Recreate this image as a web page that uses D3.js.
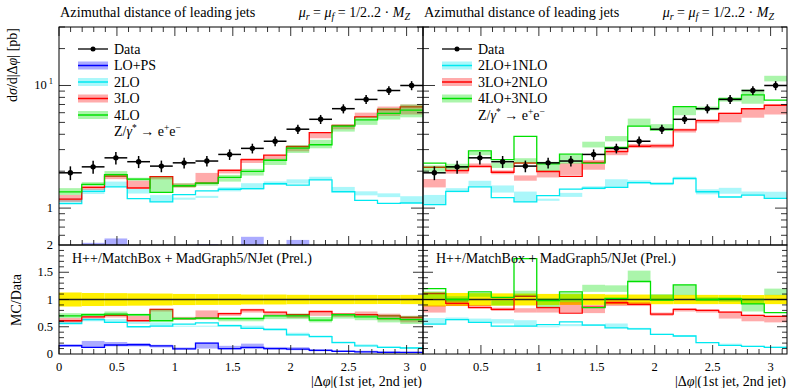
<!DOCTYPE html>
<html>
<head>
<meta charset="utf-8">
<script src="https://cdn.jsdelivr.net/npm/d3@7/dist/d3.min.js"></script>
<style>
  body { margin: 0; background: #fff; }
  svg text { font-family: "Liberation Serif", "Times New Roman", serif; fill: #000; }
</style>
</head>
<body>
<svg id="chart" width="788" height="388" font-family="Liberation Serif, serif"></svg>
<script>
// bin edges of |dphi| (16 bins from 0 to pi)
const binEdges = [0, 0.19635, 0.3927, 0.58905, 0.7854, 0.98175, 1.1781, 1.37445, 1.5708,
  1.76715, 1.9635, 2.15985, 2.3562, 2.55255, 2.7489, 2.94525, 3.14159];

// measured cross section [pb] and its error
const dataVals = [1.94, 2.17, 2.57, 2.39, 2.20, 2.34, 2.42, 2.74, 3.07, 3.51, 4.40, 5.30, 6.47, 7.70, 9.10, 10.0];
const dataErr = [0.25, 0.26, 0.30, 0.27, 0.24, 0.24, 0.24, 0.27, 0.28, 0.32, 0.38, 0.45, 0.55, 0.65, 0.75, 0.85];

// MC / Data, central value and scale variation band (left panel)
const lopsC  = [0.155, 0.12, 0.165, 0.17, 0.15, 0.095, 0.20, 0.10, 0.12, 0.10, 0.09, 0.065, 0.05, 0.04, 0.03, 0.03];
const lopsLo = [0.13, 0.11, 0.14, 0.14, 0.12, 0.08, 0.10, 0.08, 0.09, 0.08, 0.07, 0.05, 0.04, 0.03, 0.02, 0.02];
const lopsHi = [0.18, 0.24, 0.22, 0.20, 0.17, 0.12, 0.21, 0.15, 0.19, 0.13, 0.125, 0.09, 0.07, 0.06, 0.05, 0.04];

const lo2C  = [0.56, 0.63, 0.58, 0.50, 0.51, 0.55, 0.57, 0.52, 0.47, 0.45, 0.35, 0.32, 0.21, 0.15, 0.12, 0.11];
const lo2Lo = [0.56, 0.60, 0.58, 0.55, 0.51, 0.50, 0.50, 0.50, 0.46, 0.44, 0.36, 0.32, 0.21, 0.165, 0.135, 0.11];
const lo2Hi = [0.62, 0.66, 0.64, 0.60, 0.58, 0.52, 0.52, 0.54, 0.52, 0.47, 0.39, 0.34, 0.23, 0.178, 0.145, 0.125];

const lo3C  = [0.61, 0.68, 0.71, 0.61, 0.82, 0.65, 0.66, 0.74, 0.81, 0.77, 0.72, 0.78, 0.73, 0.72, 0.70, 0.67];
const lo3Lo = [0.58, 0.65, 0.67, 0.61, 0.78, 0.63, 0.66, 0.70, 0.76, 0.70, 0.66, 0.70, 0.68, 0.71, 0.62, 0.58];
const lo3Hi = [0.66, 0.70, 0.74, 0.70, 0.83, 0.68, 0.80, 0.76, 0.83, 0.77, 0.74, 0.78, 0.74, 0.78, 0.74, 0.70];

const lo4C  = [0.70, 0.72, 0.73, 0.72, 0.61, 0.65, 0.66, 0.65, 0.65, 0.70, 0.70, 0.62, 0.72, 0.68, 0.65, 0.63];
const lo4Lo = [0.66, 0.70, 0.70, 0.70, 0.61, 0.63, 0.63, 0.60, 0.60, 0.64, 0.64, 0.58, 0.65, 0.62, 0.58, 0.55];
const lo4Hi = [0.75, 0.75, 0.78, 0.74, 0.82, 0.68, 0.67, 0.68, 0.68, 0.72, 0.74, 0.68, 0.74, 0.72, 0.72, 0.70];

// MC / Data (right panel, merged NLO)
const nlo1C  = [0.55, 0.63, 0.58, 0.51, 0.51, 0.54, 0.59, 0.53, 0.48, 0.46, 0.36, 0.33, 0.21, 0.16, 0.14, 0.12];
const nlo1Lo = [0.55, 0.62, 0.59, 0.56, 0.51, 0.49, 0.51, 0.52, 0.48, 0.45, 0.35, 0.32, 0.20, 0.17, 0.14, 0.12];
const nlo1Hi = [0.66, 0.67, 0.65, 0.64, 0.62, 0.51, 0.55, 0.55, 0.56, 0.48, 0.37, 0.34, 0.22, 0.19, 0.15, 0.136];

const nlo2C  = [1.11, 0.93, 0.85, 0.82, 1.06, 0.85, 0.75, 0.86, 0.94, 0.91, 0.73, 0.82, 0.80, 0.77, 0.71, 0.69];
const nlo2Lo = [0.76, 0.88, 0.84, 0.79, 0.76, 0.76, 0.77, 0.75, 0.88, 0.88, 0.70, 0.78, 0.76, 0.65, 0.60, 0.58];
const nlo2Hi = [0.89, 0.97, 0.90, 0.85, 0.84, 0.87, 0.96, 0.90, 0.98, 0.95, 0.76, 0.84, 0.82, 0.78, 0.72, 0.70];

const nlo3C  = [1.20, 1.00, 1.14, 1.04, 1.75, 0.98, 1.14, 0.85, 1.02, 1.33, 0.99, 1.27, 1.00, 1.01, 0.92, 0.76];
const nlo3Lo = [1.02, 0.95, 1.05, 0.89, 1.05, 0.86, 0.95, 1.14, 1.14, 1.32, 1.00, 1.08, 0.97, 0.96, 0.78, 1.08];
const nlo3Hi = [1.15, 1.06, 1.12, 0.98, 1.16, 1.02, 1.12, 1.27, 1.26, 1.53, 1.10, 1.27, 1.04, 1.04, 1.02, 1.20];

const xTickLabels = ['0', '0.5', '1', '1.5', '2', '2.5', '3'];
const ratioTickLabels = ['0', '0.5', '1', '1.5', '2'];

const leftSeries = [
  { name: 'LO+PS', color: '#0000ff', c: lopsC, lo: lopsLo, hi: lopsHi },
  { name: '2LO', color: '#00e8f0', c: lo2C, lo: lo2Lo, hi: lo2Hi },
  { name: '3LO', color: '#ff0000', c: lo3C, lo: lo3Lo, hi: lo3Hi },
  { name: '4LO', color: '#00e000', c: lo4C, lo: lo4Lo, hi: lo4Hi }
];
const rightSeries = [
  { name: '2LO+1NLO', color: '#00e8f0', c: nlo1C, lo: nlo1Lo, hi: nlo1Hi },
  { name: '3LO+2NLO', color: '#ff0000', c: nlo2C, lo: nlo2Lo, hi: nlo2Hi },
  { name: '4LO+3NLO', color: '#00e000', c: nlo3C, lo: nlo3Lo, hi: nlo3Hi }
];

const svg = d3.select('#chart');
const panelW = 364;
const topY0 = 27, topY1 = 245, ratY1 = 354;
const bandOpacity = 0.33;
const fs = '14px', tickFs = '12.5px';

// histogram step path from per-bin values
function steps(vals, x, y) {
  const pts = [];
  vals.forEach((v, i) => {
    pts.push([x(binEdges[i]), y(v)]);
    pts.push([x(binEdges[i + 1]), y(v)]);
  });
  return d3.line()(pts);
}

function drawPanel(left, series, idx, showY) {
  const x = d3.scaleLinear().domain([0, Math.PI]).range([left, left + panelW]);
  const yTop = d3.scaleLog().domain([0.5, 30]).range([topY1, topY0]);
  const yRat = d3.scaleLinear().domain([0, 2]).range([ratY1, topY1]);

  // clip areas for both sub plots
  const defs = svg.append('defs');
  defs.append('clipPath').attr('id', 'ct' + idx).append('rect')
    .attr('x', left).attr('y', topY0).attr('width', panelW).attr('height', topY1 - topY0);
  defs.append('clipPath').attr('id', 'cr' + idx).append('rect')
    .attr('x', left).attr('y', topY1).attr('width', panelW).attr('height', ratY1 - topY1);

  const gTop = svg.append('g').attr('clip-path', `url(#ct${idx})`);
  const gRat = svg.append('g').attr('clip-path', `url(#cr${idx})`);

  // yellow data uncertainty band + line at 1 in the ratio
  gRat.selectAll('rect.dband').data(dataVals).enter().append('rect')
    .attr('x', (d, i) => x(binEdges[i]))
    .attr('width', (d, i) => x(binEdges[i + 1]) - x(binEdges[i]))
    .attr('y', (d, i) => yRat(1 + dataErr[i] / d))
    .attr('height', (d, i) => yRat(1 - dataErr[i] / d) - yRat(1 + dataErr[i] / d))
    .attr('fill', '#fff000');
  gRat.append('line')
    .attr('x1', x(0)).attr('x2', x(Math.PI))
    .attr('y1', yRat(1)).attr('y2', yRat(1))
    .attr('stroke', '#222').attr('stroke-width', 1.4);

  // MC bands then lines
  series.forEach(s => {
    const absC = s.c.map((r, i) => r * dataVals[i]);
    gTop.selectAll(null).data(s.lo).enter().append('rect')
      .attr('x', (d, i) => x(binEdges[i]))
      .attr('width', (d, i) => x(binEdges[i + 1]) - x(binEdges[i]))
      .attr('y', (d, i) => yTop(s.hi[i] * dataVals[i]))
      .attr('height', (d, i) => yTop(d * dataVals[i]) - yTop(s.hi[i] * dataVals[i]))
      .attr('fill', s.color).attr('fill-opacity', bandOpacity);
    gRat.selectAll(null).data(s.lo).enter().append('rect')
      .attr('x', (d, i) => x(binEdges[i]))
      .attr('width', (d, i) => x(binEdges[i + 1]) - x(binEdges[i]))
      .attr('y', (d, i) => yRat(s.hi[i]))
      .attr('height', (d, i) => yRat(d) - yRat(s.hi[i]))
      .attr('fill', s.color).attr('fill-opacity', bandOpacity);
    gTop.append('path').attr('d', steps(absC, x, yTop))
      .attr('fill', 'none').attr('stroke', s.color).attr('stroke-width', 1.3);
    gRat.append('path').attr('d', steps(s.c, x, yRat))
      .attr('fill', 'none').attr('stroke', s.color).attr('stroke-width', 1.3);
  });

  // data points with error bars
  const mid = i => (binEdges[i] + binEdges[i + 1]) / 2;
  const pts = gTop.append('g');
  dataVals.forEach((v, i) => {
    pts.append('line').attr('x1', x(binEdges[i])).attr('x2', x(binEdges[i + 1]))
      .attr('y1', yTop(v)).attr('y2', yTop(v)).attr('stroke', '#000').attr('stroke-width', 1.5);
    pts.append('line').attr('x1', x(mid(i))).attr('x2', x(mid(i)))
      .attr('y1', yTop(v - dataErr[i])).attr('y2', yTop(v + dataErr[i]))
      .attr('stroke', '#000').attr('stroke-width', 1.5);
    pts.append('circle').attr('cx', x(mid(i))).attr('cy', yTop(v)).attr('r', 2.7).attr('fill', '#000');
  });

  // frames
  [[topY0, topY1], [topY1, ratY1]].forEach(([a, b]) => {
    svg.append('rect').attr('x', left).attr('y', a).attr('width', panelW).attr('height', b - a)
      .attr('fill', 'none').attr('stroke', '#000').attr('stroke-width', 1);
  });

  // x ticks, pointing inward
  const xMinor = d3.range(0, 32).map(k => k / 10);
  const ticks = svg.append('g').attr('stroke', '#000').attr('stroke-width', 0.8);
  xMinor.forEach(t => {
    const major = Math.abs(t * 2 - Math.round(t * 2)) < 1e-6;
    const len = major ? 9 : 5;
    [[topY1, -1], [topY0, 1], [ratY1, -1]].forEach(([yy, dir]) => {
      ticks.append('line').attr('x1', x(t)).attr('x2', x(t))
        .attr('y1', yy).attr('y2', yy + dir * len);
    });
  });

  // y ticks on the log plot and the ratio plot
  const logMinor = [0.6, 0.7, 0.8, 0.9, 2, 3, 4, 5, 6, 7, 8, 9, 20, 30];
  const logMajor = [1, 10];
  const yTick = (yy, len) => {
    ticks.append('line').attr('x1', left).attr('x2', left + len).attr('y1', yy).attr('y2', yy);
    ticks.append('line').attr('x1', left + panelW).attr('x2', left + panelW - len).attr('y1', yy).attr('y2', yy);
  };
  logMinor.forEach(t => yTick(yTop(t), 6));
  logMajor.forEach(t => yTick(yTop(t), 12));
  d3.range(1, 20).forEach(k => {
    const t = k / 10;
    yTick(yRat(t), k % 5 === 0 ? 10 : 5);
  });

  // x tick labels
  svg.selectAll(null).data(xTickLabels).enter().append('text')
    .attr('x', d => x(+d)).attr('y', 371)
    .attr('text-anchor', 'middle').style('font-size', tickFs)
    .text(d => d);

  // x title
  const xt = svg.append('text').attr('x', left + panelW - 1).attr('y', 386)
    .attr('text-anchor', 'end').style('font-size', fs);
  xt.append('tspan').text('|Δ');
  xt.append('tspan').style('font-style', 'italic').text('φ');
  xt.append('tspan').text('|(1st jet, 2nd jet)');

  if (showY) {
    const ylT = svg.append('g');
    ylT.append('text').attr('x', left - 6).attr('y', yTop(1) + 4)
      .attr('text-anchor', 'end').style('font-size', tickFs).text('1');
    const ten = ylT.append('text').attr('x', left - 6).attr('y', yTop(10) + 4)
      .attr('text-anchor', 'end').style('font-size', tickFs);
    ten.append('tspan').text('10');
    ten.append('tspan').attr('dx', 2).attr('dy', -5).style('font-size', '8.5px').text('1');
    svg.selectAll(null).data(ratioTickLabels).enter().append('text')
      .attr('x', left - 6).attr('y', d => yRat(+d) + 4)
      .attr('text-anchor', 'end').style('font-size', tickFs).text(d => d);
  }

  // plot title line
  svg.append('text').attr('x', left + 1).attr('y', 17).style('font-size', '14.3px')
    .text('Azimuthal distance of leading jets');
  const mu = svg.append('text').attr('x', left + panelW - 13).attr('y', 17)
    .attr('text-anchor', 'end').style('font-size', fs);
  mu.append('tspan').style('font-style', 'italic').text('μ');
  mu.append('tspan').attr('dy', 3).style('font-size', '10px').style('font-style', 'italic').text('r');
  mu.append('tspan').attr('dy', -3).text(' = ');
  mu.append('tspan').style('font-style', 'italic').text('μ');
  mu.append('tspan').attr('dy', 3).style('font-size', '10px').style('font-style', 'italic').text('f');
  mu.append('tspan').attr('dy', -3).text(' = 1/2..2 · ');
  mu.append('tspan').style('font-style', 'italic').text('M');
  mu.append('tspan').attr('dy', 3).style('font-size', '10px').style('font-style', 'italic').text('Z');

  // generator label in the ratio plot
  svg.append('text').attr('x', left + 13).attr('y', 263).style('font-size', fs)
    .text('H++/MatchBox + MadGraph5/NJet (Prel.)');

  // legend
  const lx = left + 19, rowH = 16.5, ly0 = 49;
  const leg = svg.append('g');
  leg.append('line').attr('x1', lx).attr('x2', lx + 30).attr('y1', ly0).attr('y2', ly0)
    .attr('stroke', '#000').attr('stroke-width', 1.3);
  leg.append('circle').attr('cx', lx + 15).attr('cy', ly0).attr('r', 2.5).attr('fill', '#000');
  leg.append('text').attr('x', lx + 36).attr('y', ly0 + 4.5).style('font-size', fs).text('Data');
  series.forEach((s, k) => {
    const yy = ly0 + rowH * (k + 1);
    leg.append('rect').attr('x', lx).attr('y', yy - 4).attr('width', 30).attr('height', 8)
      .attr('fill', s.color).attr('fill-opacity', bandOpacity);
    leg.append('line').attr('x1', lx).attr('x2', lx + 30).attr('y1', yy).attr('y2', yy)
      .attr('stroke', s.color).attr('stroke-width', 1.5);
    leg.append('text').attr('x', lx + 36).attr('y', yy + 4.5).style('font-size', fs).text(s.name);
  });
  const zt = leg.append('text').attr('x', lx + 36).attr('y', ly0 + rowH * (series.length + 1) + 4.5)
    .style('font-size', fs);
  zt.append('tspan').text('Z/');
  zt.append('tspan').style('font-style', 'italic').text('γ');
  zt.append('tspan').attr('dy', -5).style('font-size', '9.5px').text('*');
  zt.append('tspan').attr('dy', 5).text(' → e');
  zt.append('tspan').attr('dy', -5).style('font-size', '9.5px').text('+');
  zt.append('tspan').attr('dy', 5).text('e');
  zt.append('tspan').attr('dy', -5).style('font-size', '9.5px').text('−');
}

drawPanel(59, leftSeries, 0, true);
drawPanel(423, rightSeries, 1, false);

// y axis titles
const yl = svg.append('text').attr('transform', 'translate(17,28) rotate(-90)')
  .attr('text-anchor', 'end').style('font-size', fs);
yl.append('tspan').text('d');
yl.append('tspan').style('font-style', 'italic').text('σ');
yl.append('tspan').text('/d|Δ');
yl.append('tspan').style('font-style', 'italic').text('φ');
yl.append('tspan').text('| [pb]');

svg.append('text').attr('transform', 'translate(21,300) rotate(-90)')
  .attr('text-anchor', 'middle').style('font-size', fs).text('MC/Data');
</script>
</body>
</html>
